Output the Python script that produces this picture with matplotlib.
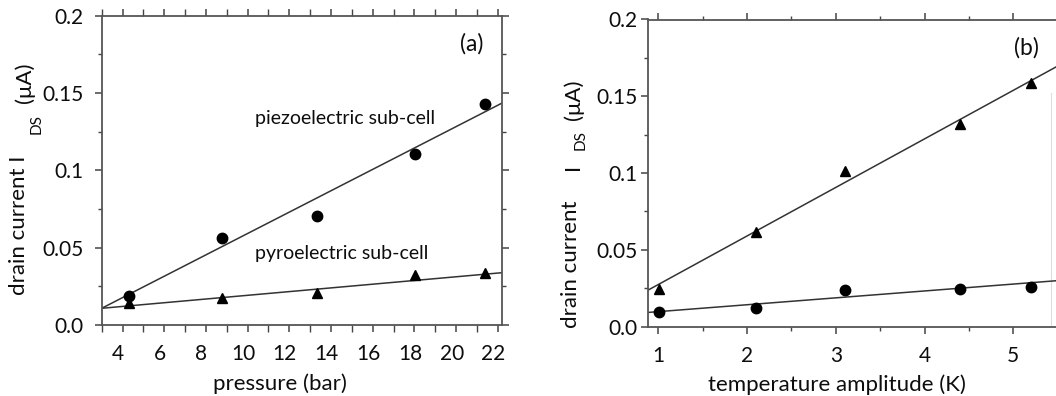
import matplotlib
matplotlib.use("Agg")
import matplotlib.pyplot as plt
from matplotlib.ticker import FixedLocator, MultipleLocator, FixedFormatter
from matplotlib.transforms import ScaledTranslation

plt.rcParams['font.family'] = ['Lato', 'DejaVu Sans']

# ---- data: panel (a) pressure ----
pressure = [4.31, 8.75, 13.31, 18.02, 21.39]
piezo_current = [0.0189, 0.0559, 0.0705, 0.1105, 0.1428]
pyro_current_a = [0.0140, 0.0176, 0.0204, 0.0323, 0.0338]
fit_x_a = [3.0, 22.2]
fit_piezo_a = [0.0108, 0.1434]
fit_pyro_a = [0.0108, 0.0338]

# ---- data: panel (b) temperature amplitude ----
temp_amp = [1.01, 2.10, 3.10, 4.40, 5.20]
pyro_current_b = [0.0245, 0.0618, 0.1015, 0.1319, 0.1588]
piezo_current_b = [0.0098, 0.0119, 0.0239, 0.0247, 0.0260]
fit_x_b = [0.887, 5.5]
fit_tri_b = [0.0239, 0.1697]
fit_circ_b = [0.0093, 0.0300]

y_ticks = [0.0, 0.05, 0.1, 0.15, 0.2]
y_tick_labels = ["0.0", "0.05", "0.1", "0.15", "0.2"]
x_ticks_a = [4, 6, 8, 10, 12, 14, 16, 18, 20, 22]
x_ticks_b = [1, 2, 3, 4, 5]

W, H = 1056, 396
fig = plt.figure(figsize=(W / 100, H / 100), dpi=100)

def frac(l, t, r, b):
    return [l / W, (H - b) / H, (r - l) / W, (b - t) / H]

ax1 = fig.add_axes(frac(101.7, 15.5, 502, 325))
ax2 = fig.add_axes(frac(648.3, 19.5, 1057.7, 326.7))

lc = '#333333'
tc = '#0d0d0d'
TICK_FS = 15
LAB_FS = 16
for ax in (ax1, ax2):
    for s in ax.spines.values():
        s.set_color('#555555')
        s.set_linewidth(1.3)
    ax.set_ylim(0, 0.2)
    ax.yaxis.set_major_locator(FixedLocator(y_ticks))
    ax.yaxis.set_major_formatter(FixedFormatter(y_tick_labels))
    ax.yaxis.set_minor_locator(MultipleLocator(0.025))
    ax.tick_params(axis='both', which='major', labelsize=TICK_FS, colors='#444444',
                   labelcolor=tc, length=5, width=1.1, direction='out', pad=6)
    ax.tick_params(axis='both', which='minor', length=3, width=1.0,
                   colors='#444444', direction='out')
    ax.tick_params(top=True, right=True, which='both')

# panel (a)
ax1.set_xlim(3.0, 22.2)
ax1.xaxis.set_major_locator(FixedLocator(x_ticks_a))
ax1.xaxis.set_minor_locator(MultipleLocator(1))
ax1.tick_params(axis='x', which='minor', length=5)
ax1.tick_params(axis='x', which='major', pad=9)
ax1.tick_params(axis='y', which='major', pad=8)
ax1.plot(fit_x_a, fit_piezo_a, color=lc, lw=1.1)
ax1.plot(fit_x_a, fit_pyro_a, color=lc, lw=1.1)
ax1.plot(pressure, piezo_current, 'o', color='black', ms=7.5, zorder=3)
ax1.plot(pressure, pyro_current_a, '^', color='black', ms=7.5, zorder=3)
ax1.set_xlabel('pressure (bar)', fontsize=LAB_FS, color=tc, labelpad=4)
ax1.xaxis.set_label_coords(0.445, -0.155)
ax1.text(10.35, 0.1337, 'piezoelectric sub-cell', fontsize=14, color=tc,
         ha='left', va='center')
ax1.text(10.35, 0.0465, 'pyroelectric sub-cell', fontsize=14, color=tc,
         ha='left', va='center')
ax1.text(20.75, 0.182, '(a)', fontsize=16.5, color=tc, ha='center', va='center')
for lab in ax1.get_xticklabels():
    lab.set_transform(lab.get_transform() + ScaledTranslation(-0.045, 0, fig.dpi_scale_trans))

# panel (b)
ax2.set_xlim(0.887, 5.5)
ax2.xaxis.set_major_locator(FixedLocator(x_ticks_b))
ax2.xaxis.set_minor_locator(MultipleLocator(0.5))
ax2.tick_params(axis='x', which='major', pad=9)
ax2.tick_params(axis='y', which='major', pad=2.5)
ax2.spines['right'].set_visible(False)
ax2.tick_params(right=False, which='both')
ax2.plot(fit_x_b, fit_tri_b, color=lc, lw=1.1)
ax2.plot(fit_x_b, fit_circ_b, color=lc, lw=1.1)
ax2.plot(temp_amp, pyro_current_b, '^', color='black', ms=7.5, zorder=3)
ax2.plot(temp_amp, piezo_current_b, 'o', color='black', ms=7.5, zorder=3)
ax2.set_xlabel('temperature amplitude (K)', fontsize=LAB_FS, color=tc, labelpad=4)
ax2.xaxis.set_label_coords(0.461, -0.155)
ax2.text(5.15, 0.1814, '(b)', fontsize=16.5, color=tc, ha='center', va='center')
ax2.plot([5.43, 5.43], [0.0, 0.152], color='#dddddd', lw=0.8, zorder=0)

# y labels, built piecewise like the original
def ftxt(x, y, s, size):
    fig.text(x / W, (H - y) / H, s, rotation=90, ha='center', va='center',
             fontsize=size, color=tc)

ftxt(19, 225, 'drain current I', LAB_FS)
ftxt(37, 124, 'DS', 11)
ftxt(25, 83, '(μA)', LAB_FS)

ftxt(571, 264, 'drain current', LAB_FS)
ftxt(573, 167, 'I', LAB_FS)
ftxt(581, 140, 'DS', 11)
ftxt(574, 100, '(μA)', LAB_FS)

fig.savefig('out.png', dpi=100)
